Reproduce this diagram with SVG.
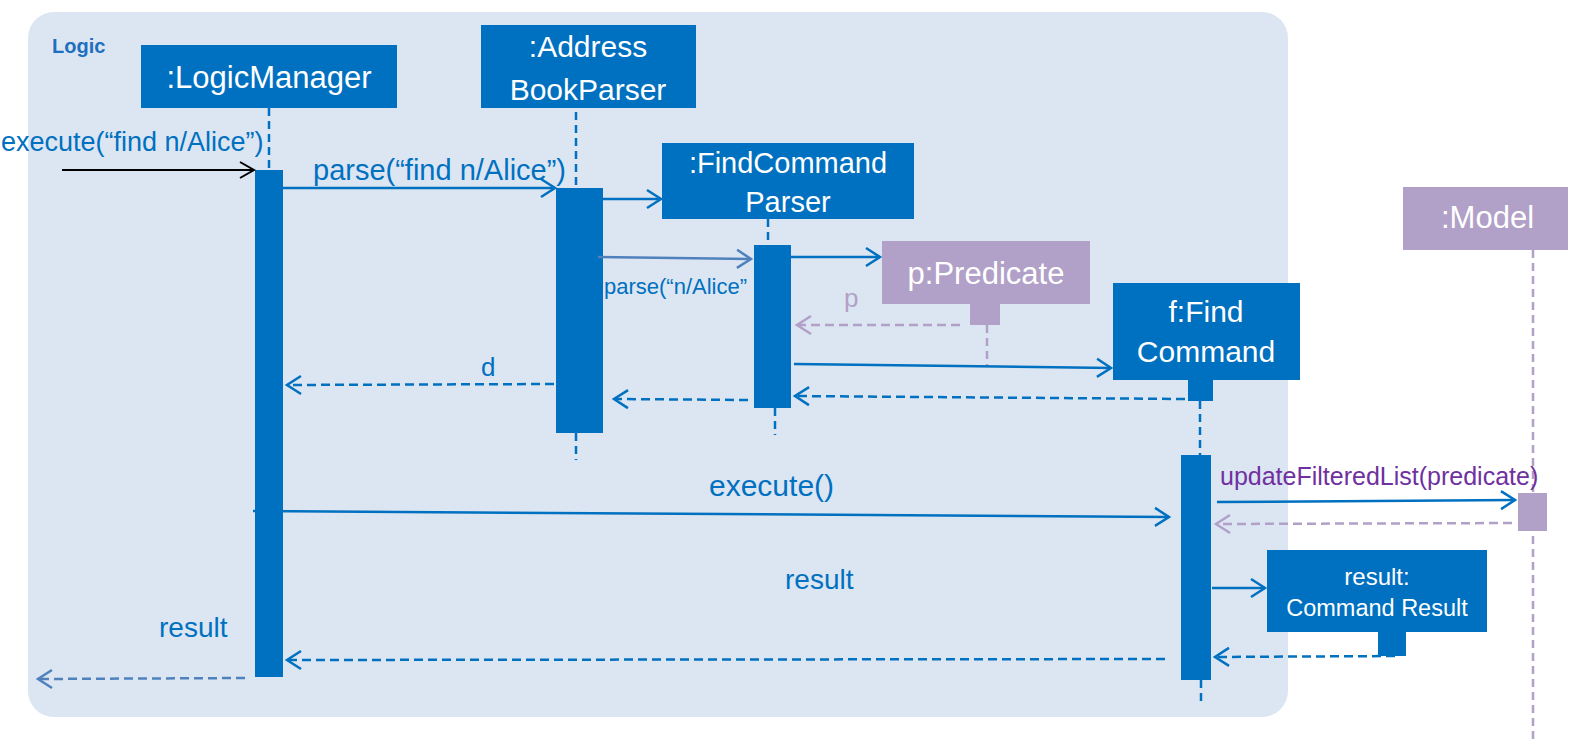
<svg xmlns="http://www.w3.org/2000/svg" width="1579" height="743" viewBox="0 0 1579 743">
<style>
.box{fill:#0070C0}
.pbox{fill:#B1A0C7}
.bt{font-family:"Liberation Sans",Arial,sans-serif;fill:#fff;text-anchor:middle}
.lbl{font-family:"Liberation Sans",Arial,sans-serif;fill:#0070C0}
.life{stroke:#0070C0;stroke-width:2.5;stroke-dasharray:8 5;fill:none}
.plife{stroke:#B1A0C7;stroke-width:2.5;stroke-dasharray:8 5;fill:none}
.msg{stroke:#0070C0;stroke-width:2.5;fill:none}
.ret{stroke:#0070C0;stroke-width:2.5;stroke-dasharray:9 5;fill:none}
.pret{stroke:#B1A0C7;stroke-width:2.5;stroke-dasharray:9 5;fill:none}
</style>
<defs>
<marker id="ab" markerUnits="userSpaceOnUse" markerWidth="20" markerHeight="22" refX="16" refY="11" orient="auto"><path d="M2,2 L16,11 L2,20" fill="none" stroke="#0070C0" stroke-width="2.5"/></marker>
<marker id="ak" markerUnits="userSpaceOnUse" markerWidth="20" markerHeight="22" refX="16" refY="11" orient="auto"><path d="M2,3 L16,11 L2,19" fill="none" stroke="#000" stroke-width="2"/></marker>
<marker id="ap" markerUnits="userSpaceOnUse" markerWidth="20" markerHeight="22" refX="16" refY="11" orient="auto"><path d="M2,2 L16,11 L2,20" fill="none" stroke="#B1A0C7" stroke-width="2.5"/></marker>
<marker id="al" markerUnits="userSpaceOnUse" markerWidth="20" markerHeight="22" refX="16" refY="11" orient="auto"><path d="M2,2 L16,11 L2,20" fill="none" stroke="#4F81BD" stroke-width="2.5"/></marker>
</defs>
<rect width="1579" height="743" fill="#fff"/>
<g id="logic-frame">
<rect x="28" y="12" width="1260" height="705" rx="26" fill="#DCE6F2"/>
<text x="52" y="53" font-family="Liberation Sans,Arial,sans-serif" font-weight="bold" font-size="20" fill="#1F6FBF">Logic</text>
</g>
<g id="logicManager">
<rect class="box" x="141" y="45" width="256" height="63"/>
<text class="bt" x="269" y="88" font-size="31">:LogicManager</text>
<line class="life" x1="269" y1="108" x2="269" y2="170"/>
<rect class="box" x="255" y="170" width="28" height="507"/>
</g>
<g id="addressBookParser">
<rect class="box" x="481" y="25" width="215" height="83"/>
<text class="bt" x="588" y="57" font-size="30">:Address</text>
<text class="bt" x="588" y="100" font-size="30">BookParser</text>
<line class="life" x1="576" y1="112" x2="576" y2="188"/>
<rect class="box" x="556" y="188" width="47" height="245"/>
<line class="life" x1="576" y1="433" x2="576" y2="460"/>
</g>
<g id="findCommandParser">
<rect class="box" x="662" y="143" width="252" height="76"/>
<text class="bt" x="788" y="173" font-size="29">:FindCommand</text>
<text class="bt" x="788" y="212" font-size="29">Parser</text>
<line class="life" x1="768" y1="219" x2="768" y2="245"/>
<rect class="box" x="754" y="245" width="37" height="163"/>
<line class="life" x1="775" y1="408" x2="775" y2="435"/>
</g>
<g id="predicate">
<rect class="pbox" x="882" y="241" width="208" height="63"/>
<text class="bt" x="986" y="284" font-size="31">p:Predicate</text>
<rect class="pbox" x="970" y="303" width="30" height="22"/>
<line class="plife" x1="987" y1="325" x2="987" y2="367"/>
</g>
<g id="findCommand">
<rect class="box" x="1113" y="283" width="187" height="97"/>
<text class="bt" x="1206" y="322" font-size="30">f:Find</text>
<text class="bt" x="1206" y="362" font-size="30">Command</text>
<rect class="box" x="1188" y="379" width="25" height="22"/>
<line class="life" x1="1200" y1="401" x2="1200" y2="455"/>
<rect class="box" x="1181" y="455" width="30" height="225"/>
<line class="life" x1="1201" y1="680" x2="1201" y2="705"/>
</g>
<g id="model">
<rect class="pbox" x="1403" y="187" width="165" height="63"/>
<text x="1441" y="228" font-family="Liberation Sans,Arial,sans-serif" font-size="31" fill="#fff">:Model</text>
<line class="plife" x1="1533" y1="250" x2="1533" y2="743"/>
<rect class="pbox" x="1518" y="493" width="29" height="38"/>
</g>
<g id="commandResult">
<rect class="box" x="1267" y="550" width="220" height="82"/>
<text class="bt" x="1377" y="585" font-size="24">result:</text>
<text class="bt" x="1377" y="616" font-size="23.5">Command Result</text>
<rect class="box" x="1378" y="631" width="28" height="25"/>
</g>
<g id="connectors">
<line x1="62" y1="170" x2="254" y2="170" stroke="#000" stroke-width="2" marker-end="url(#ak)"/>
<text class="lbl" x="1" y="151" font-size="27">execute(“find n/Alice”)</text>
<line class="msg" x1="283" y1="188" x2="555" y2="188" marker-end="url(#ab)"/>
<text class="lbl" x="313" y="180" font-size="29">parse(“find n/Alice”)</text>
<line class="msg" x1="603" y1="199" x2="661" y2="199" marker-end="url(#ab)"/>
<line x1="598" y1="257" x2="751" y2="259" stroke="#4F81BD" stroke-width="2.5" marker-end="url(#al)"/>
<text class="lbl" x="604" y="294" font-size="22">parse(“n/Alice”</text>
<line class="msg" x1="791" y1="257" x2="880" y2="257" marker-end="url(#ab)"/>
<line class="pret" x1="960" y1="325" x2="797" y2="325" marker-end="url(#ap)"/>
<text x="844" y="307" font-family="Liberation Sans,Arial,sans-serif" font-size="26" fill="#B1A0C7">p</text>
<line class="msg" x1="794" y1="364" x2="1111" y2="368" marker-end="url(#ab)"/>
<line class="ret" x1="1185" y1="399" x2="795" y2="396" marker-end="url(#ab)"/>
<line class="ret" x1="748" y1="400" x2="614" y2="399" marker-end="url(#ab)"/>
<line class="ret" x1="554" y1="384" x2="287" y2="385" marker-end="url(#ab)"/>
<text class="lbl" x="481" y="376" font-size="26">d</text>
<line class="msg" x1="253" y1="511" x2="1169" y2="517" marker-end="url(#ab)"/>
<text class="lbl" x="709" y="496" font-size="30">execute()</text>
<line class="msg" x1="1217" y1="502" x2="1515" y2="500" marker-end="url(#ab)"/>
<text x="1220" y="485" font-family="Liberation Sans,Arial,sans-serif" font-size="25" fill="#7030A0">updateFilteredList(predicate)</text>
<line class="pret" x1="1512" y1="523" x2="1216" y2="524" marker-end="url(#ap)"/>
<line class="msg" x1="1212" y1="588" x2="1265" y2="588" marker-end="url(#ab)"/>
<line class="ret" x1="1395" y1="656" x2="1215" y2="657" marker-end="url(#ab)"/>
<line class="ret" x1="1165" y1="659" x2="287" y2="660" marker-end="url(#ab)"/>
<text class="lbl" x="785" y="589" font-size="28">result</text>
<line x1="245" y1="678" x2="38" y2="679" stroke="#4F81BD" stroke-width="2.5" stroke-dasharray="9 5" marker-end="url(#al)"/>
<text class="lbl" x="159" y="637" font-size="28">result</text>
</g>
</svg>
